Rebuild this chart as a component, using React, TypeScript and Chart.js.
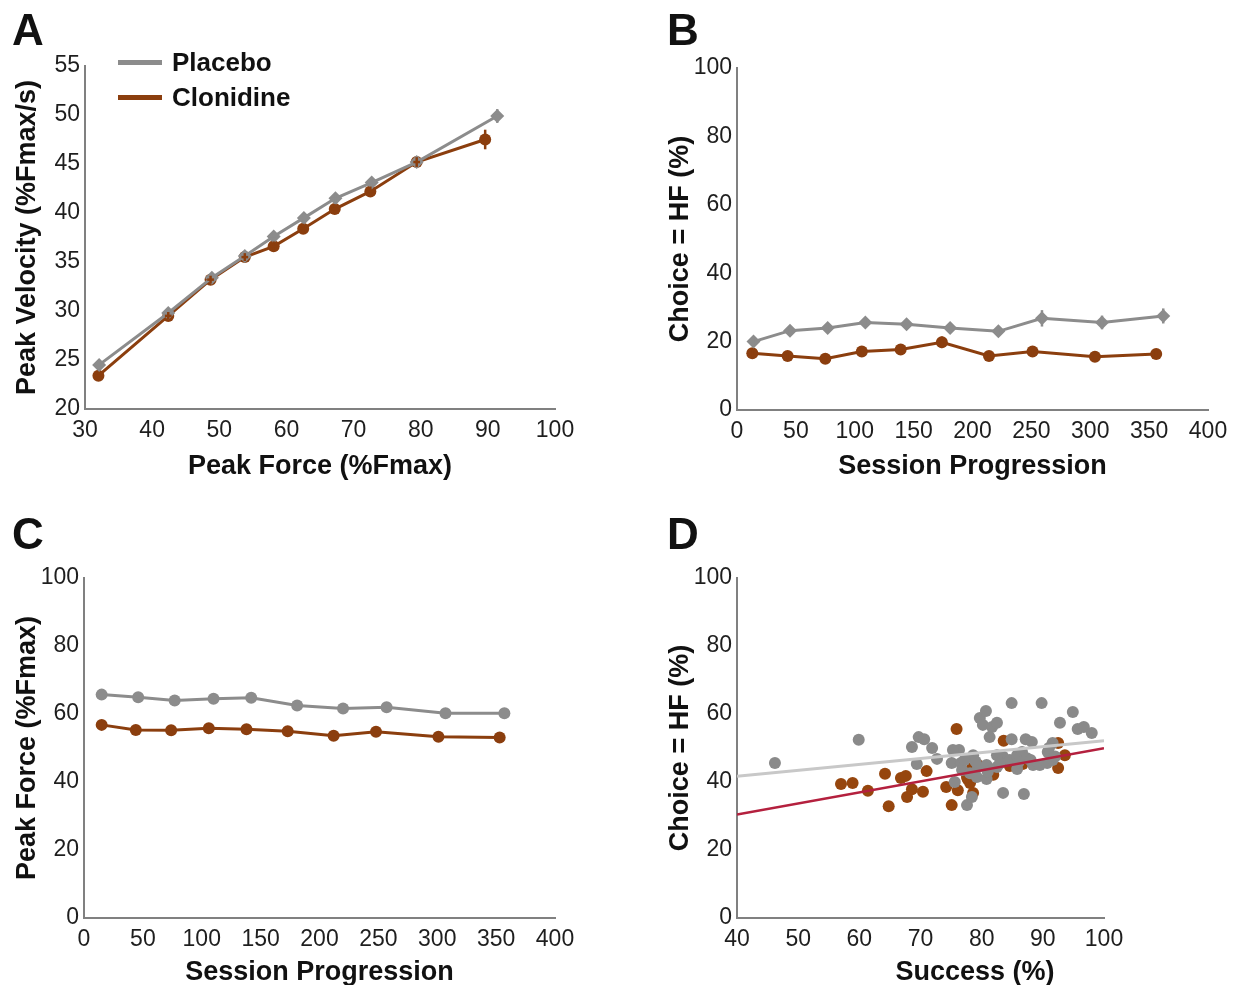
import React, { useEffect, useRef } from "react";
import { Chart, registerables } from "chart.js";

Chart.register(...registerables);

// ---------------- DATA ----------------
const seriesNames = ["Placebo", "Clonidine"];

// Panel A : peak velocity vs peak force
const aPlaceboForce = [32.1, 42.4, 48.9, 53.8, 58.1, 62.6, 67.3, 72.7, 79.4, 91.4];
const aPlaceboVel = [24.5, 29.8, 33.4, 35.6, 37.6, 39.5, 41.5, 43.1, 45.2, 49.9];
const aPlaceboVelErr = [0.5, 0.4, 0.4, 0.4, 0.5, 0.5, 0.5, 0.5, 0.5, 0.7];
const aPlaceboForceErr = [0.6, 0.6, 0.6, 0.6, 0.6, 0.6, 0.6, 0.6, 0.6, 0.6];
const aClonForce = [32.0, 42.4, 48.7, 53.8, 58.1, 62.5, 67.2, 72.5, 79.4, 89.6];
const aClonVel = [23.4, 29.5, 33.2, 35.5, 36.6, 38.4, 40.4, 42.2, 45.2, 47.5];
const aClonVelErr = [0.4, 0.4, 0.4, 0.4, 0.5, 0.5, 0.5, 0.5, 0.5, 1.0];
const aClonForceErr = [0.5, 0.5, 0.5, 0.5, 0.5, 0.5, 0.5, 0.5, 0.5, 0.5];

// Panel B : choice = HF vs session progression
const bPlaceboX = [14, 45, 77, 109, 144, 181, 222, 259, 310, 362];
const bPlaceboY = [20.0, 23.2, 24.0, 25.6, 25.1, 24.0, 23.0, 26.8, 25.6, 27.5];
const bPlaceboErr = [1.2, 1.2, 1.2, 1.3, 1.2, 1.3, 1.2, 2.4, 2.0, 2.2];
const bClonX = [13, 43, 75, 106, 139, 174, 214, 251, 304, 356];
const bClonY = [16.6, 15.8, 15.0, 17.1, 17.7, 19.8, 15.8, 17.1, 15.6, 16.4];
const bClonErr = [1.0, 1.0, 1.0, 1.0, 1.0, 1.7, 1.0, 1.0, 1.0, 1.2];

// Panel C : peak force vs session progression
const cPlaceboX = [15, 46, 77, 110, 142, 181, 220, 257, 307, 357];
const cPlaceboY = [65.7, 64.9, 64.0, 64.5, 64.8, 62.5, 61.6, 62.0, 60.2, 60.2];
const cClonX = [15, 44, 74, 106, 138, 173, 212, 248, 301, 353];
const cClonY = [56.8, 55.3, 55.2, 55.8, 55.5, 54.9, 53.6, 54.8, 53.3, 53.1];

// Panel D : choice = HF vs success
const dPlaceboSuccess = [46.2, 59.9, 68.6, 69.7, 70.6, 71.9, 72.7, 69.4, 75.1, 76.3, 76.6, 78.6, 79.7, 80.7, 80.2, 81.7, 82.5, 81.3, 84.9, 89.8, 94.9, 92.8, 95.7, 96.7, 98.0, 84.9, 87.2, 88.2, 91.6, 90.8, 83.5, 86.9, 77.6, 78.4, 75.6, 79.2, 80.8, 79.4, 80.8, 82.5, 83.5, 84.6, 85.8, 86.6, 85.8, 88.4, 89.5, 90.7, 91.6, 76.8, 78.1, 87.4, 82.5, 75.3, 77.2, 79.0, 81.0, 83.0, 86.0, 88.0, 92.0, 91.0];
const dPlaceboChoice = [45.6, 52.4, 50.3, 53.2, 52.6, 50.0, 46.8, 45.3, 45.6, 49.4, 45.6, 47.9, 58.8, 60.9, 56.8, 56.2, 57.4, 53.2, 63.2, 63.2, 60.6, 57.4, 55.6, 56.2, 54.4, 52.6, 52.6, 51.8, 51.5, 48.8, 36.8, 36.5, 33.2, 35.6, 40.0, 41.5, 40.9, 44.4, 45.0, 44.4, 47.4, 46.5, 47.9, 48.8, 43.8, 45.0, 45.0, 45.6, 46.5, 43.5, 42.6, 47.0, 47.9, 49.4, 46.5, 46.0, 43.0, 45.5, 45.8, 46.5, 47.5, 50.0];
const dClonSuccess = [57.0, 58.9, 61.4, 64.2, 64.8, 66.8, 67.6, 67.8, 68.6, 70.4, 71.0, 74.2, 75.1, 75.9, 76.1, 77.7, 78.1, 78.6, 78.4, 81.9, 83.6, 86.7, 92.5, 93.6, 92.5, 84.6, 79.4, 77.6];
const dClonChoice = [39.4, 39.7, 37.4, 42.4, 32.9, 41.2, 41.8, 35.6, 37.9, 37.1, 43.2, 38.5, 33.2, 55.6, 37.6, 40.9, 39.7, 36.8, 44.1, 42.1, 52.1, 45.3, 44.1, 47.9, 51.5, 44.7, 45.0, 41.5];
const dFitX = [40, 100];
const dPlaceboFitY = [41.7, 52.1];
const dClonFitY = [30.4, 49.9];

// ---------------- STYLE ----------------
const FONT = "'Liberation Sans', Arial, Helvetica, sans-serif";
const GREY = "rgb(140,140,140)";
const BROWN = "rgb(139,62,14)";
const DOT_GREY = "rgb(138,138,138)";
const DOT_BROWN = "rgb(150,70,14)";
const FIT_GREY = "rgb(200,200,200)";
const FIT_RED = "rgb(180,32,62)";
const AXIS = "rgb(128,128,128)";
const TICK = "#1e1e1e";
const TICK_SIZE = 23;
const TITLE_SIZE = 27;

const pts = (xs: number[], ys: number[]) => xs.map((x, i) => ({ x, y: ys[i] }));

const errorBarPlugin = {
  id: "errorBars",
  afterDatasetsDraw(chart: any) {
    const ctx = chart.ctx;
    const xs = chart.scales.x;
    const ys = chart.scales.y;
    chart.data.datasets.forEach((ds: any) => {
      if (!ds.errY && !ds.errX) return;
      ctx.save();
      ctx.strokeStyle = ds.borderColor;
      ctx.lineWidth = 2.5;
      ds.data.forEach((p: any, j: number) => {
        const px = xs.getPixelForValue(p.x);
        const py = ys.getPixelForValue(p.y);
        if (ds.errY) {
          const e = ds.errY[j];
          ctx.beginPath();
          ctx.moveTo(px, ys.getPixelForValue(p.y - e));
          ctx.lineTo(px, ys.getPixelForValue(p.y + e));
          ctx.stroke();
        }
        if (ds.errX) {
          const e = ds.errX[j];
          ctx.beginPath();
          ctx.moveTo(xs.getPixelForValue(p.x - e), py);
          ctx.lineTo(xs.getPixelForValue(p.x + e), py);
          ctx.stroke();
        }
      });
      ctx.restore();
    });
  },
};

type Frame = {
  x: number; y: number; w: number; h: number;
  left: number; top: number; right: number; bottom: number;
  yTitlePad: number; xTitlePad: number;
};

function scalesFor(f: Frame, o: any) {
  const yWidth = f.left - f.x;
  const xHeight = f.y + f.h - f.bottom;
  return {
    x: {
      type: "linear",
      position: "bottom",
      min: o.xMin, max: o.xMax,
      afterFit(s: any) { s.height = xHeight; },
      afterBuildTicks(s: any) { s.ticks = o.xTicks.map((v: number) => ({ value: v })); },
      grid: { display: false, drawTicks: false },
      border: { display: true, color: AXIS, width: 2 },
      ticks: { color: TICK, font: { family: FONT, size: TICK_SIZE }, padding: 8, maxRotation: 0, autoSkip: false },
      title: {
        display: !!o.xTitle, text: o.xTitle, color: "#111",
        font: { family: FONT, size: TITLE_SIZE, weight: "bold" },
        padding: { top: 0, bottom: f.xTitlePad },
      },
    },
    y: {
      type: "linear",
      position: "left",
      min: o.yMin, max: o.yMax,
      afterFit(s: any) { s.width = yWidth; },
      afterBuildTicks(s: any) { s.ticks = o.yTicks.map((v: number) => ({ value: v })); },
      grid: { display: false, drawTicks: false },
      border: { display: true, color: AXIS, width: 2 },
      ticks: { color: TICK, font: { family: FONT, size: TICK_SIZE }, padding: 5, autoSkip: false },
      title: {
        display: true, text: o.yTitle, color: "#111",
        font: { family: FONT, size: TITLE_SIZE, weight: "bold" },
        padding: { top: f.yTitlePad, bottom: 0 },
      },
    },
  };
}

function baseConfig(f: Frame, datasets: any[], o: any) {
  return {
    type: "scatter",
    data: { datasets },
    options: {
      animation: false,
      responsive: false,
      devicePixelRatio: 1,
      layout: { padding: { left: 0, bottom: 0, top: f.top - f.y, right: f.x + f.w - f.right } },
      plugins: { legend: { display: false }, tooltip: { enabled: false } },
      scales: scalesFor(f, o),
    },
    plugins: [errorBarPlugin],
  };
}

const lineDs = (label: string, data: any[], color: string, style: string, extra: any = {}) => ({
  label, data, showLine: true, borderColor: color, backgroundColor: color,
  borderWidth: 3, pointRadius: style === "rectRot" ? 7 : 6, pointStyle: style,
  pointBorderWidth: 0, ...extra,
});

const range = (a: number, b: number, s: number) => {
  const r: number[] = [];
  for (let v = a; v <= b + 1e-9; v += s) r.push(v);
  return r;
};

const frames: Record<string, Frame> = {
  A: { x: 0, y: 0, w: 610, h: 492, left: 85, top: 66, right: 555, bottom: 409, yTitlePad: 11, xTitlePad: 9 },
  B: { x: 620, y: 0, w: 618, h: 492, left: 737, top: 68, right: 1208, bottom: 410, yTitlePad: 44, xTitlePad: 9 },
  C: { x: 0, y: 495, w: 610, h: 490, left: 84, top: 578, right: 555, bottom: 918, yTitlePad: 11, xTitlePad: -4 },
  D: { x: 620, y: 495, w: 618, h: 490, left: 737, top: 578, right: 1104, bottom: 918, yTitlePad: 44, xTitlePad: 0 },
};

const configs: Record<string, () => any> = {
  A: () => baseConfig(frames.A, [
    lineDs(seriesNames[0], pts(aPlaceboForce, aPlaceboVel), GREY, "rectRot", { errY: aPlaceboVelErr, errX: aPlaceboForceErr }),
    lineDs(seriesNames[1], pts(aClonForce, aClonVel), BROWN, "circle", { errY: aClonVelErr, errX: aClonForceErr }),
  ], { xMin: 30, xMax: 100, xTicks: range(30, 100, 10), yMin: 20, yMax: 55, yTicks: range(20, 55, 5),
       xTitle: "Peak Force (%Fmax)", yTitle: "Peak Velocity (%Fmax/s)" }),
  B: () => baseConfig(frames.B, [
    lineDs(seriesNames[0], pts(bPlaceboX, bPlaceboY), GREY, "rectRot", { errY: bPlaceboErr }),
    lineDs(seriesNames[1], pts(bClonX, bClonY), BROWN, "circle", { errY: bClonErr }),
  ], { xMin: 0, xMax: 400, xTicks: range(0, 400, 50), yMin: 0, yMax: 100, yTicks: range(0, 100, 20),
       xTitle: "Session Progression", yTitle: "Choice = HF (%)" }),
  C: () => baseConfig(frames.C, [
    lineDs(seriesNames[0], pts(cPlaceboX, cPlaceboY), GREY, "circle"),
    lineDs(seriesNames[1], pts(cClonX, cClonY), BROWN, "circle"),
  ], { xMin: 0, xMax: 400, xTicks: range(0, 400, 50), yMin: 0, yMax: 100, yTicks: range(0, 100, 20),
       xTitle: "Session Progression", yTitle: "Peak Force (%Fmax)" }),
  D: () => baseConfig(frames.D, [
    { label: "Placebo fit", data: pts(dFitX, dPlaceboFitY), showLine: true, borderColor: FIT_GREY, borderWidth: 3, pointRadius: 0 },
    { label: "Clonidine fit", data: pts(dFitX, dClonFitY), showLine: true, borderColor: FIT_RED, borderWidth: 2.5, pointRadius: 0 },
    { label: seriesNames[0], data: pts(dPlaceboSuccess, dPlaceboChoice), backgroundColor: DOT_GREY, borderWidth: 0, pointRadius: 6 },
    { label: seriesNames[1], data: pts(dClonSuccess, dClonChoice), backgroundColor: DOT_BROWN, borderWidth: 0, pointRadius: 6 },
  ], { xMin: 40, xMax: 100, xTicks: range(40, 100, 10), yMin: 0, yMax: 100, yTicks: range(0, 100, 20),
       xTitle: "", yTitle: "Choice = HF (%)" }),
};

function Panel({ id }: { id: string }) {
  const ref = useRef<HTMLCanvasElement | null>(null);
  const f = frames[id];
  useEffect(() => {
    if (!ref.current) return;
    const chart = new Chart(ref.current, configs[id]() as any);
    return () => chart.destroy();
  }, [id]);
  return (
    <canvas
      ref={ref}
      width={f.w}
      height={f.h}
      style={{ position: "absolute", left: f.x, top: f.y, width: f.w, height: f.h }}
    />
  );
}

const letterStyle = (left: number, top: number): React.CSSProperties => ({
  position: "absolute", left, top, fontFamily: FONT, fontWeight: "bold",
  fontSize: 44, lineHeight: "44px", color: "#111",
});

const legendColors = [GREY, BROWN];

export default function App() {
  return (
    <div style={{ position: "absolute", left: 0, top: 0, width: 1238, height: 985, background: "#fff", overflow: "hidden" }}>
      {["A", "B", "C", "D"].map((id) => <Panel key={id} id={id} />)}
      <div style={letterStyle(12, 8)}>A</div>
      <div style={letterStyle(667, 8)}>B</div>
      <div style={letterStyle(12, 512)}>C</div>
      <div style={letterStyle(667, 512)}>D</div>
      {seriesNames.map((name, i) => (
        <div key={name} style={{ position: "absolute", left: 118, top: 62 + i * 35 - 16, height: 32, display: "flex", alignItems: "center" }}>
          <div style={{ width: 44, height: 5, background: legendColors[i], marginRight: 10 }} />
          <span style={{ fontFamily: FONT, fontWeight: "bold", fontSize: 26, color: "#111" }}>{name}</span>
        </div>
      ))}
      <div style={{ position: "absolute", left: 875, width: 200, top: 954, textAlign: "center", fontFamily: FONT, fontWeight: "bold", fontSize: TITLE_SIZE, lineHeight: "34px", color: "#111" }}>
        Success (%)
      </div>
    </div>
  );
}
